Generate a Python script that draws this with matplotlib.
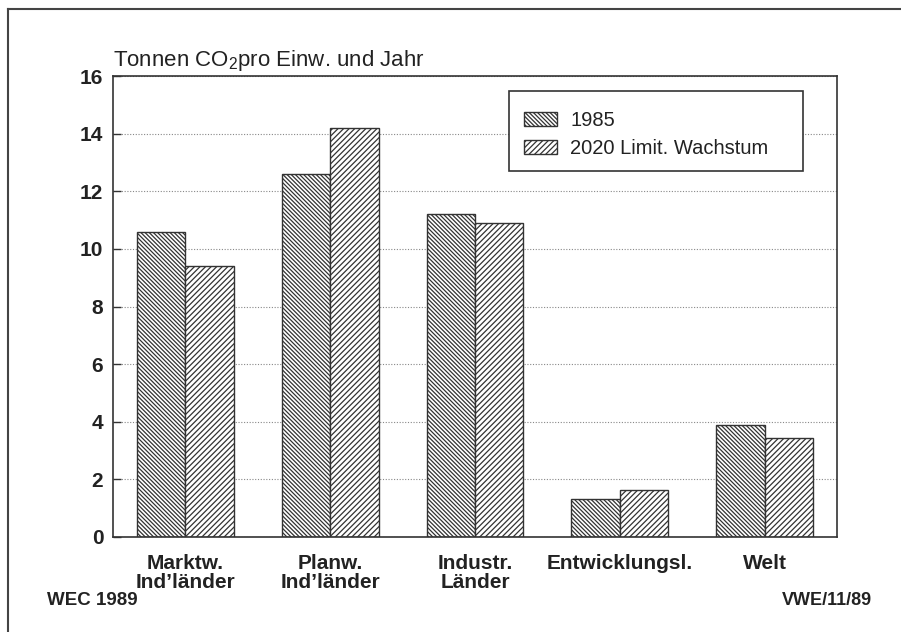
import matplotlib
matplotlib.use("Agg")
import matplotlib.pyplot as plt
from matplotlib.patches import Rectangle
from matplotlib.lines import Line2D
import numpy as np

categories = ["Marktw.\nInd’länder", "Planw.\nInd’länder", "Industr.\nLänder", "Entwicklungsl.", "Welt"]
series_names = ["1985", "2020 Limit. Wachstum"]
values_1985 = [10.6, 12.6, 11.2, 1.32, 3.9]
values_2020 = [9.4, 14.2, 10.9, 1.62, 3.43]
yticks = [0, 2, 4, 6, 8, 10, 12, 14, 16]

plt.rcParams['font.family'] = ['Liberation Sans', 'DejaVu Sans']
plt.rcParams['mathtext.fontset'] = 'custom'
plt.rcParams['mathtext.rm'] = 'Liberation Sans'
plt.rcParams['hatch.linewidth'] = 0.9

W, H = 901, 632
fig = plt.figure(figsize=(W / 100, H / 100), dpi=100)
fig.patch.set_facecolor('white')

# axes placement in pixels
ax_l, ax_r, ax_t, ax_b = 113, 837, 76, 537
ax = fig.add_axes([ax_l / W, 1 - ax_b / H, (ax_r - ax_l) / W, (ax_b - ax_t) / H])

ink = '#333333'
txt = '#222222'
x = np.arange(len(categories))
bw = 0.334
b1 = ax.bar(x - bw / 2, values_1985, width=bw, facecolor='white', edgecolor=ink,
            linewidth=1.0, hatch='\\' * 8, label=series_names[0], zorder=2)
b2 = ax.bar(x + bw / 2, values_2020, width=bw, facecolor='white', edgecolor=ink,
            linewidth=1.0, hatch='/' * 6, label=series_names[1], zorder=2)

ax.set_xlim(-0.5, len(categories) - 0.5)
ax.set_ylim(0, 16)
ax.set_yticks(yticks)
ax.set_yticklabels([str(v) for v in yticks], fontsize=15, fontweight='bold', color=txt)
ax.set_xticks(x)
ax.set_xticklabels(categories, fontsize=15, fontweight='bold', color=txt, linespacing=1.0)
ax.tick_params(axis='x', length=0, pad=12)
ax.tick_params(axis='y', direction='in', length=6, width=1.0, color=ink, pad=7)

ax.yaxis.grid(True, linestyle=(0, (1, 1.5)), color='#888888', linewidth=0.8)
ax.set_axisbelow(True)
for s in ax.spines.values():
    s.set_color(ink)
    s.set_linewidth(1.2)

# legend box drawn manually
lx0, lx1, ly0, ly1 = 509, 803, 91, 171
def ax_x(px):
    return (px - ax_l) / (ax_r - ax_l)
def ax_y(py):
    return (ax_b - py) / (ax_b - ax_t)
ax.add_patch(Rectangle((ax_x(lx0), ax_y(ly1)), ax_x(lx1) - ax_x(lx0), ax_y(ly0) - ax_y(ly1),
                       transform=ax.transAxes, facecolor='white', edgecolor=ink,
                       linewidth=1.2, zorder=3))
leg = ax.legend(handles=[b1, b2], loc='center left',
                bbox_to_anchor=(ax_x(524), ax_y(134.5)), frameon=False,
                fontsize=14.5, handlelength=1.65, handleheight=0.7,
                handletextpad=0.65, labelspacing=0.45, borderpad=0, borderaxespad=0)
leg.set_zorder(4)
for t in leg.get_texts():
    t.set_color(txt)

# title
fig.text(ax_l / W, 1 - 66 / H, r"Tonnen CO$_\mathregular{2}$pro Einw. und Jahr",
         fontsize=16, color=txt, ha='left', va='baseline')

# footer texts
fig.text(47 / W, 1 - 605 / H, "WEC 1989", fontsize=13.5, fontweight='bold',
         color=txt, ha='left', va='baseline')
fig.text(872 / W, 1 - 605 / H, "VWE/11/89", fontsize=13, fontweight='bold',
         color=txt, ha='right', va='baseline')

# outer frame (left and top)
fig.add_artist(Line2D([8 / W, 8 / W], [0, 1 - 9 / H], transform=fig.transFigure,
                      color='#444444', linewidth=1.5))
fig.add_artist(Line2D([8 / W, 1], [1 - 9 / H, 1 - 9 / H], transform=fig.transFigure,
                      color='#444444', linewidth=1.5))

fig.savefig('out.png', dpi=100)
